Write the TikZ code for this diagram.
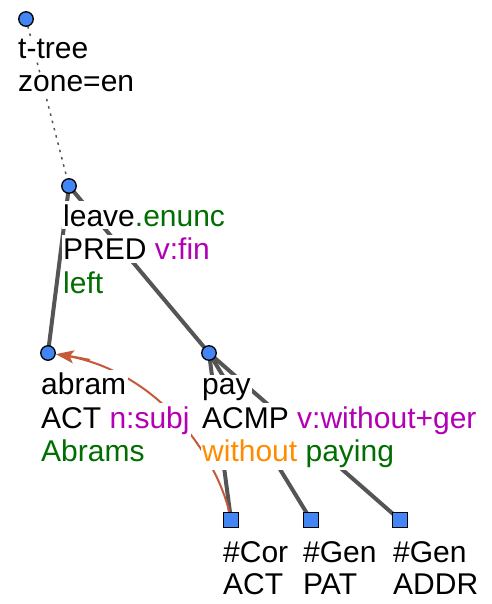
\documentclass[tikz,border=0pt]{standalone}
\usepackage{fontspec}
\setmainfont{Liberation Sans}
\usetikzlibrary{arrows.meta}
\definecolor{nodeblue}{RGB}{66,133,244}
\definecolor{edgegray}{RGB}{85,85,85}
\definecolor{tgreen}{RGB}{0,110,0}
\definecolor{tpurple}{RGB}{180,0,180}
\definecolor{torange}{RGB}{255,140,0}
\definecolor{corefarrow}{RGB}{196,90,58}
\tikzset{
  tnode/.style={circle, draw=black, line width=1.3pt, fill=nodeblue, minimum size=14.5pt, inner sep=0pt},
  gnode/.style={rectangle, draw=black, line width=1.3pt, fill=nodeblue, minimum size=15pt, inner sep=0pt},
  lbl/.style={anchor=base west, inner xsep=1.5pt, inner ysep=3pt, fill=white, font=\fontsize{30}{33}\selectfont},
  edge/.style={draw=edgegray, line width=4pt},
  rootedge/.style={draw=edgegray, line width=1.5pt, dash pattern=on 2.5pt off 5pt},
  coref/.style={draw=corefarrow, line width=2pt, -{Stealth[length=18pt,width=13pt,inset=4pt]}},
}
\begin{document}
\begin{tikzpicture}[x=1pt,y=-1pt]
\useasboundingbox (0,0) rectangle (491,604);
% node positions (nodes drawn at the end on top)
\coordinate (cRoot) at (26,19);
\coordinate (cLeave) at (69,186);
\coordinate (cAbram) at (48,353);
\coordinate (cPay) at (209,353);
\coordinate (cCor) at (231,520);
\coordinate (cGen1) at (311,520);
\coordinate (cGen2) at (400,520);
% edges
\draw[rootedge] (cRoot) -- (cLeave);
\draw[edge] (cLeave) -- (cAbram);
\draw[edge] (cLeave) -- (cPay);
\draw[edge] (cPay) -- (cCor);
\draw[edge] (cPay) -- (cGen1);
\draw[edge] (cPay) -- (cGen2);
\draw[draw=corefarrow, line width=2pt] (cCor) .. controls (220,460) and (160,370) .. (62,355);
% labels
\node[lbl] (rootA) at (16.5,59) {t-tree};
\node[lbl] (rootB) at (16.5,92) {zone=en};
\node[lbl] (leaveA) at (61.5,226) {leave\textcolor{tgreen}{.enunc}};
\node[lbl] (leaveB) at (61.5,259.5) {PRED \textcolor{tpurple}{v:fin}};
\node[lbl] (leaveC) at (61.5,293) {\textcolor{tgreen}{left}};
\node[lbl] (abramA) at (39.5,394.5) {abram};
\node[lbl] (abramB) at (39.5,428) {ACT \textcolor{tpurple}{n:subj}};
\node[lbl] (abramC) at (39.5,461) {\textcolor{tgreen}{Abrams}};
\node[lbl] (payA) at (200.5,394.5) {pay};
\node[lbl] (payB) at (200.5,428) {ACMP \textcolor{tpurple}{v:without+ger}};
\node[lbl] (payC) at (200.5,461) {\textcolor{torange}{without} \textcolor{tgreen}{paying}};
\node[lbl] (corA) at (221.5,562.5) {\#Cor};
\node[lbl] (corB) at (221.5,594) {ACT};
\node[lbl] (gen1A) at (301.5,562.5) {\#Gen};
\node[lbl] (gen1B) at (301.5,594) {PAT};
\node[lbl] (gen2A) at (391.5,562.5) {\#Gen};
\node[lbl] (gen2B) at (391.5,594) {ADDR};
\coordinate (arrStart) at (90,360);
% tree nodes
\node[tnode] (root) at (cRoot) {};
\node[tnode] (leave) at (cLeave) {};
\node[tnode] (abram) at (cAbram) {};
\node[tnode] (pay) at (cPay) {};
\node[gnode] (cor) at (cCor) {};
\node[gnode] (gen1) at (cGen1) {};
\node[gnode] (gen2) at (cGen2) {};
\draw[coref] (arrStart) .. controls (75,357) .. (abram);
\end{tikzpicture}
\end{document}
